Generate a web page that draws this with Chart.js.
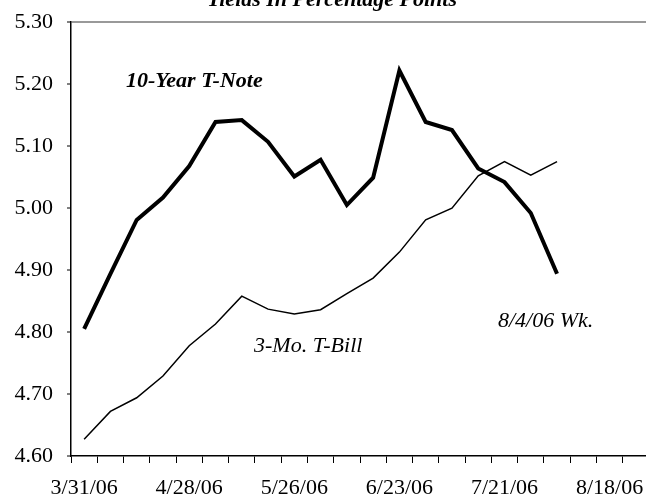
<!DOCTYPE html>
<html>
<head>
<meta charset="utf-8">
<script src="https://cdn.jsdelivr.net/npm/chart.js@4"></script>
<style>
  html, body { margin: 0; padding: 0; background: #fff; overflow: hidden; }
  #wrap { position: relative; width: 649px; height: 503px; margin-top: -5px; }
</style>
</head>
<body>
<div id="wrap"><canvas id="yieldChart"></canvas></div>
<script>
// weekly dates, only every 4th one is labelled
const weeks = ['3/31/06', '4/7/06', '4/14/06', '4/21/06', '4/28/06', '5/5/06', '5/12/06', '5/19/06',
    '5/26/06', '6/2/06', '6/9/06', '6/16/06', '6/23/06', '6/30/06', '7/7/06', '7/14/06',
    '7/21/06', '7/28/06', '8/4/06', '8/11/06', '8/18/06', '8/25/06'];

const tenYearNote = [4.805, 4.894, 4.981, 5.017, 5.068, 5.139, 5.142, 5.107, 5.051, 5.078,
    5.005, 5.049, 5.222, 5.139, 5.126, 5.064, 5.042, 4.992, 4.894];
const threeMonthBill = [4.627, 4.672, 4.694, 4.729, 4.778, 4.813, 4.858, 4.837, 4.829, 4.836,
    4.862, 4.887, 4.929, 4.981, 5.000, 5.052, 5.075, 5.053, 5.075];

const yTicks = [4.60, 4.70, 4.80, 4.90, 5.00, 5.10, 5.20, 5.30];

const SERIF = '"Liberation Serif", "Times New Roman", serif';

// title and the text notes inside the plot (canvas sits 5px above the page top)
const notesPlugin = {
    id: 'notes',
    afterDraw(chart) {
        const ctx = chart.ctx;
        ctx.save();
        ctx.fillStyle = '#000';
        ctx.textBaseline = 'alphabetic';

        ctx.font = 'italic bold 22px ' + SERIF;
        ctx.textAlign = 'center';
        ctx.fillText('Yields In Percentage Points', 332, 11);

        ctx.textAlign = 'left';
        ctx.fillText('10-Year T-Note', 126, 92);

        ctx.font = 'italic 22px ' + SERIF;
        ctx.fillText('3-Mo. T-Bill', 254, 357);
        ctx.fillText('8/4/06 Wk.', 498, 332);
        ctx.restore();
    }
};

const ctx = document.getElementById('yieldChart').getContext('2d');
new Chart(ctx, {
    type: 'line',
    data: {
        labels: weeks,
        datasets: [{
            label: '10-Year T-Note',
            data: tenYearNote,
            borderColor: '#000',
            borderWidth: 4,
            pointRadius: 0,
            tension: 0
        }, {
            label: '3-Mo. T-Bill',
            data: threeMonthBill,
            borderColor: '#000',
            borderWidth: 1.5,
            pointRadius: 0,
            tension: 0
        }]
    },
    options: {
        responsive: true,
        maintainAspectRatio: false,
        animation: false,
        layout: { padding: { top: 16, right: 0, left: 0, bottom: 0 } },
        plugins: {
            legend: { display: false },
            tooltip: { enabled: false }
        },
        scales: {
            x: {
                offset: true,
                grid: {
                    offset: true,
                    color: 'transparent',
                    tickColor: '#000',
                    tickLength: 7,
                    tickWidth: 1
                },
                border: { display: true, color: '#000', width: 1.5 },
                ticks: {
                    autoSkip: false,
                    maxRotation: 0,
                    minRotation: 0,
                    padding: 12,
                    color: '#000',
                    font: { family: SERIF, size: 22 },
                    callback: (value, index) => index % 4 === 0 ? weeks[index] : ''
                },
                afterFit: (scale) => { scale.height = 42; }
            },
            y: {
                min: 4.6,
                max: 5.3,
                afterBuildTicks: (scale) => { scale.ticks = yTicks.map(v => ({ value: v })); },
                grid: {
                    color: (c) => c.tick && c.tick.value === 5.3 ? '#999' : 'transparent',
                    lineWidth: 2,
                    tickColor: '#000',
                    tickLength: 4,
                    tickWidth: 1
                },
                border: { display: true, color: '#000', width: 1.5 },
                ticks: {
                    padding: 14,
                    color: '#000',
                    font: { family: SERIF, size: 22 },
                    callback: (value) => Number(value).toFixed(2)
                },
                afterFit: (scale) => { scale.width = 71; }
            }
        }
    },
    plugins: [notesPlugin]
});
</script>
</body>
</html>
